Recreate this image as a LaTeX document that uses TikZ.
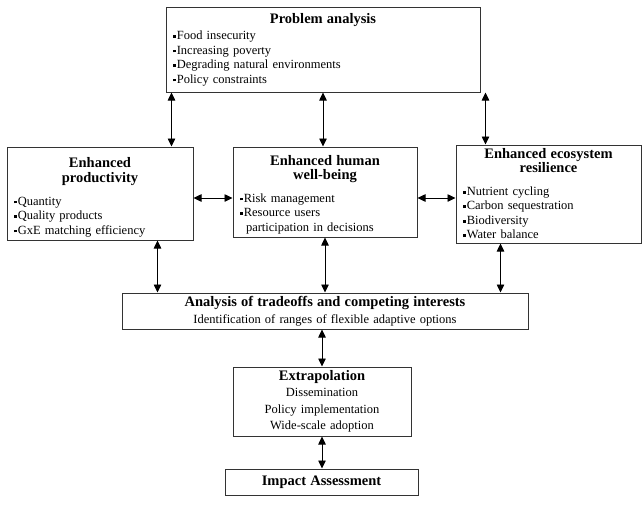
\documentclass[tikz,border=0pt]{standalone}
\usepackage{fontspec}
\setmainfont{Liberation Serif}
\usetikzlibrary{arrows.meta}

\newcommand\sqb{\raisebox{.3ex}{\rule{2.8pt}{2.8pt}}\hspace{1pt}}
\newcommand\ttl[1]{\makebox[\linewidth]{\fontsize{14.5}{16}\selectfont\bfseries #1}}

\begin{document}
\begin{tikzpicture}[
  x=1pt, y=-1pt,
  font=\fontsize{12.5}{14.5}\selectfont,
  box/.style={draw=black!80,line width=1pt,inner xsep=7pt,inner ysep=2pt,align=left},
  cbox/.style={box,align=center},
  tip/.style={{Triangle[length=8pt,width=7.5pt]}-{Triangle[length=8pt,width=7.5pt]},line width=0.8pt},
]
\useasboundingbox (0,0) rectangle (642,515);
% boxes
\node[box,text width=300pt,minimum height=85pt] (prob) at (323,49.5) {\ttl{Problem analysis}\\[2pt]
  \sqb Food insecurity\\ \sqb Increasing poverty\\ \sqb Degrading natural environments\\ \sqb Policy constraints};
\node[box,text width=172pt,minimum height=93pt] (prod) at (100,193.5) {\rule{0pt}{17pt}\ttl{Enhanced}\\[1pt] \ttl{productivity}\\[8pt]
  \sqb Quantity\\ \sqb Quality products\\ \sqb GxE matching efficiency};
\node[box,text width=170pt,minimum height=90pt] (human) at (325,192) {\rule{0pt}{15pt}\ttl{Enhanced human}\\[0pt] \ttl{well-being}\\[8pt]
  \sqb Risk management\\ \sqb Resource users\\ \hspace*{6pt}participation in decisions};
\node[box,text width=171pt,minimum height=98pt] (eco) at (548.5,194) {\ttl{Enhanced ecosystem}\\[-1pt] \ttl{resilience}\\[8.5pt]
  \sqb Nutrient cycling\\ \sqb Carbon sequestration\\ \sqb Biodiversity\\ \sqb Water balance};
\node[cbox,text width=392pt,minimum height=36pt] (ana) at (325,311) {{\fontsize{14.5}{16}\selectfont\bfseries Analysis of tradeoffs and competing interests}\\[2.5pt]
  Identification of ranges of flexible adaptive options};
\node[cbox,text width=164pt,minimum height=69pt] (extr) at (322,401.5) {{\fontsize{14.5}{16}\selectfont\bfseries Extrapolation}\\[1.5pt]
  Dissemination\\[2pt] Policy implementation\\[2pt] Wide-scale adoption};
\node[cbox,text width=179pt,minimum height=26pt] (imp) at (321.5,482) {\fontsize{14.5}{16}\selectfont\bfseries Impact Assessment};
% connectors
\coordinate (pa1) at ([xshift=6pt]prob.south west);
\coordinate (pa3) at ([xshift=5pt]prob.south east);
\coordinate (h1) at ([yshift=-4.5pt]prod.east);
\coordinate (h2) at ([yshift=-6pt]human.east);
\coordinate (ta1) at ([xshift=36pt]ana.north west);
\coordinate (ta3) at ([xshift=-28pt]ana.north east);
\draw[tip] (pa1) -- (pa1 |- prod.north);
\draw[tip] (prob.south) -- (prob.south |- human.north);
\draw[tip] (pa3) -- (pa3 |- eco.north);
\draw[tip] (h1) -- (h1 -| human.west);
\draw[tip] (h2) -- (h2 -| eco.west);
\draw[tip] (ta1 |- prod.south) -- (ta1);
\draw[tip] (human.south) -- (human.south |- ana.north);
\draw[tip] (ta3 |- eco.south) -- (ta3);
\draw[tip] (extr.north |- ana.south) -- (extr.north);
\draw[tip] (extr.south) -- (extr.south |- imp.north);
\end{tikzpicture}
\end{document}
